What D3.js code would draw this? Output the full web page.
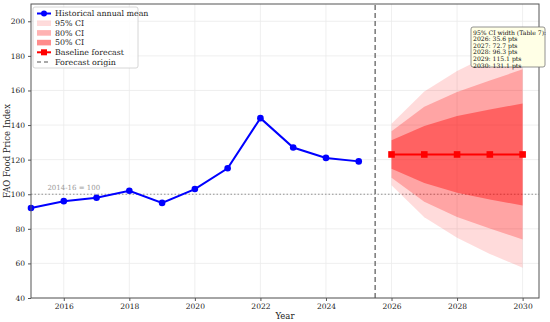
<!DOCTYPE html>
<html>
<head>
<meta charset="utf-8">
<script src="https://cdn.jsdelivr.net/npm/d3@7"></script>
<style>
  body { margin: 0; background: #fff; }
  svg { display: block; font-family: "DejaVu Serif", serif; }
</style>
</head>
<body>
<svg id="chart" width="550" height="322"></svg>
<script>
// historical annual means
const histYears = [2015, 2016, 2017, 2018, 2019, 2020, 2021, 2022, 2023, 2024, 2025];
const histValues = [92, 96, 98, 102, 95, 103, 115, 144, 127, 121, 119];

// forecast
const fcYears = [2026, 2027, 2028, 2029, 2030];
const fcValues = [123, 123, 123, 123, 123];
const ci95Lo = [105.2, 86.7, 74.9, 65.5, 57.5];
const ci95Hi = [140.8, 159.4, 171.2, 180.6, 188.6];
const ci80Lo = [109.6, 95.6, 86.9, 80.2, 73.8];
const ci80Hi = [136.4, 150.6, 159.1, 165.8, 172.2];
const ci50Lo = [114.8, 106.5, 100.8, 97.0, 93.5];
const ci50Hi = [131.2, 139.5, 145.2, 149.0, 152.5];
const ciWidths = ["2026: 35.6 pts", "2027: 72.7 pts", "2028: 96.3 pts", "2029: 115.1 pts", "2030: 131.1 pts"];

const xTicks = [2016, 2018, 2020, 2022, 2024, 2026, 2028, 2030];
const yTicks = [40, 60, 80, 100, 120, 140, 160, 180, 200];

const margin = { left: 31, right: 11, top: 4, bottom: 24 };
const W = 550, H = 322;
const svg = d3.select("#chart");

const x = d3.scaleLinear().domain([2015, 2030.5]).range([margin.left, W - margin.right]);
const y = d3.scaleLinear().domain([40, 210]).range([H - margin.bottom, margin.top]);

// grid
svg.append("g").selectAll("line").data(xTicks).join("line")
  .attr("x1", d => x(d)).attr("x2", d => x(d))
  .attr("y1", y(40)).attr("y2", y(210))
  .attr("stroke", "#ebebeb").attr("stroke-width", 0.8);
svg.append("g").selectAll("line").data(yTicks).join("line")
  .attr("x1", x(2015)).attr("x2", x(2030.5))
  .attr("y1", d => y(d)).attr("y2", d => y(d))
  .attr("stroke", "#ebebeb").attr("stroke-width", 0.8);

// reference line at 100
svg.append("line")
  .attr("x1", x(2015)).attr("x2", x(2030.5))
  .attr("y1", y(100)).attr("y2", y(100))
  .attr("stroke", "#888").attr("stroke-width", 0.9)
  .attr("stroke-dasharray", "1.5,2");
svg.append("text")
  .attr("x", x(2015.5)).attr("y", y(100) - 4)
  .attr("font-size", 7).attr("fill", "#999")
  .text("2014-16 = 100");

// confidence bands
function band(lo, hi, op) {
  const area = d3.area()
    .x((d, i) => x(fcYears[i]))
    .y0((d, i) => y(lo[i]))
    .y1((d, i) => y(hi[i]));
  svg.append("path").datum(fcYears)
    .attr("d", area).attr("fill", "red").attr("fill-opacity", op);
}
band(ci95Lo, ci95Hi, 0.14);
band(ci80Lo, ci80Hi, 0.25);
band(ci50Lo, ci50Hi, 0.4);

// forecast origin
svg.append("line")
  .attr("x1", x(2025.5)).attr("x2", x(2025.5))
  .attr("y1", y(40)).attr("y2", y(210))
  .attr("stroke", "#555").attr("stroke-width", 1.2)
  .attr("stroke-dasharray", "5,3");

// historical line
const line = d3.line().x(d => x(d[0])).y(d => y(d[1]));
const hist = histYears.map((yr, i) => [yr, histValues[i]]);
svg.append("path").datum(hist)
  .attr("d", line).attr("fill", "none")
  .attr("stroke", "#0000ff").attr("stroke-width", 2);
svg.append("g").selectAll("circle").data(hist).join("circle")
  .attr("cx", d => x(d[0])).attr("cy", d => y(d[1])).attr("r", 3.3)
  .attr("fill", "#0000ff");

// baseline forecast
const fc = fcYears.map((yr, i) => [yr, fcValues[i]]);
svg.append("path").datum(fc)
  .attr("d", line).attr("fill", "none")
  .attr("stroke", "red").attr("stroke-width", 2);
svg.append("g").selectAll("rect").data(fc).join("rect")
  .attr("x", d => x(d[0]) - 3.3).attr("y", d => y(d[1]) - 3.3)
  .attr("width", 6.6).attr("height", 6.6).attr("fill", "red");

// frame and axes
svg.append("rect")
  .attr("x", x(2015)).attr("y", y(210))
  .attr("width", x(2030.5) - x(2015)).attr("height", y(40) - y(210))
  .attr("fill", "none").attr("stroke", "#555").attr("stroke-width", 1);

const xAxis = svg.append("g")
  .attr("transform", `translate(0,${y(40)})`)
  .call(d3.axisBottom(x).tickValues(xTicks).tickFormat(d3.format("d")).tickSize(3).tickPadding(3));
const yAxis = svg.append("g")
  .attr("transform", `translate(${x(2015)},0)`)
  .call(d3.axisLeft(y).tickValues(yTicks).tickSize(3).tickPadding(3));
[xAxis, yAxis].forEach(g => {
  g.select(".domain").remove();
  g.selectAll("line").attr("stroke", "#555");
  g.selectAll("text").attr("font-size", 7.5).attr("fill", "#222")
    .attr("font-family", "DejaVu Serif, serif");
});

svg.append("text")
  .attr("x", (x(2015) + x(2030.5)) / 2).attr("y", H - 3)
  .attr("text-anchor", "middle").attr("font-size", 8.5).attr("fill", "#222")
  .text("Year");
svg.append("text")
  .attr("transform", `translate(10,${(y(40) + y(210)) / 2}) rotate(-90)`)
  .attr("text-anchor", "middle").attr("font-size", 8.5).attr("fill", "#222")
  .text("FAO Food Price Index");

// legend
const lg = svg.append("g").attr("transform", "translate(33,7)");
lg.append("rect").attr("width", 105).attr("height", 61)
  .attr("fill", "#fff").attr("fill-opacity", 0.85)
  .attr("stroke", "#ccc").attr("stroke-width", 0.8).attr("rx", 2);
const items = [
  { label: "Historical annual mean", kind: "line", color: "#0000ff", marker: "circle" },
  { label: "95% CI", kind: "patch", op: 0.14 },
  { label: "80% CI", kind: "patch", op: 0.3 },
  { label: "50% CI", kind: "patch", op: 0.45 },
  { label: "Baseline forecast", kind: "line", color: "red", marker: "square" },
  { label: "Forecast origin", kind: "dash" }
];
items.forEach((it, i) => {
  const cy = 6.5 + i * 9.7;
  const g = lg.append("g");
  if (it.kind === "patch") {
    g.append("rect").attr("x", 4).attr("y", cy - 2.8).attr("width", 14).attr("height", 5.6)
      .attr("fill", "red").attr("fill-opacity", it.op);
  } else if (it.kind === "line") {
    g.append("line").attr("x1", 4).attr("x2", 18).attr("y1", cy).attr("y2", cy)
      .attr("stroke", it.color).attr("stroke-width", 2);
    if (it.marker === "circle") {
      g.append("circle").attr("cx", 11).attr("cy", cy).attr("r", 3).attr("fill", it.color);
    } else {
      g.append("rect").attr("x", 8).attr("y", cy - 3).attr("width", 6).attr("height", 6).attr("fill", it.color);
    }
  } else {
    g.append("line").attr("x1", 4).attr("x2", 18).attr("y1", cy).attr("y2", cy)
      .attr("stroke", "#555").attr("stroke-width", 1.2).attr("stroke-dasharray", "4,3");
  }
  g.append("text").attr("x", 22).attr("y", cy + 2.8)
    .attr("font-size", 7.9).attr("fill", "#222").text(it.label);
});

// CI width box
const bx = svg.append("g").attr("transform", "translate(471,27)");
bx.append("rect").attr("width", 74).attr("height", 40).attr("rx", 2)
  .attr("fill", "#ffffe6").attr("stroke", "#777").attr("stroke-width", 0.8);
const lines = ["95% CI width (Table 7):"].concat(ciWidths);
bx.selectAll("text").data(lines).join("text")
  .attr("x", 2).attr("y", (d, i) => 7.5 + i * 6.6)
  .attr("font-size", 6.1).attr("fill", "#111")
  .text(d => d);
</script>
</body>
</html>
